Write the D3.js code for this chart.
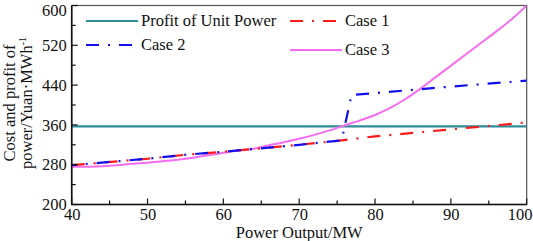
<!DOCTYPE html>
<html>
<head>
<meta charset="utf-8">
<script src="https://d3js.org/d3.v7.min.js"></script>
<style>
  body { margin: 0; background: #fff; }
  svg text { font-family: "Liberation Serif", "Times New Roman", Times, serif !important; fill: #111; }
</style>
</head>
<body>
<div id="container"></div>
<script>
// data
var profitLevel = 357;
var xTicks = [40, 50, 60, 70, 80, 90, 100];
var yTicks = [200, 280, 360, 440, 520, 600];

var case1X = [40, 50, 55, 60, 65, 70, 75, 80, 85, 90, 95, 100];
var case1Y = [279, 292, 300, 306, 313, 320, 328, 337, 344, 351, 358, 365];

var case2X = [40, 50, 55, 60, 65, 70, 75.6, 76.9, 80, 90, 100];
var case2Y = [279, 292, 300, 306, 313, 320, 329, 420, 424, 437, 449];

var case3X = [40, 42, 44, 46, 48, 50, 52, 54, 56, 58, 60, 62, 64, 66, 68, 70, 72, 74, 76, 78, 80, 82, 84, 86, 88, 90, 92, 94, 96, 98, 100];
var case3Y = [276, 276, 277, 279, 282, 284, 287, 290, 294, 299, 304, 309, 312, 319, 325, 332, 340, 349, 359, 369, 380, 394, 412, 433, 456, 479, 502, 525, 548, 572, 600];

var svg_width = 533, svg_height = 241;
var margin = {left: 71.7, top: 5.5, right: 6.3, bottom: 36.5};
var serif = "'Liberation Serif', 'Times New Roman', Times, serif";

var svg = d3.select("#container").append("svg")
    .attr("width", svg_width).attr("height", svg_height)
    .attr("font-family", serif);

var scale_x = d3.scaleLinear().domain([40, 100]).range([margin.left, svg_width - margin.right]);
var scale_y = d3.scaleLinear().domain([200, 600]).range([svg_height - margin.bottom, margin.top]);

// frame (top/right)
svg.append("rect")
    .attr("x", scale_x(40)).attr("y", scale_y(600))
    .attr("width", scale_x(100) - scale_x(40))
    .attr("height", scale_y(200) - scale_y(600))
    .attr("fill", "none").attr("stroke", "#555").attr("stroke-width", 1.2);

svg.append("clipPath").attr("id", "clip").append("rect")
    .attr("x", scale_x(40)).attr("y", scale_y(600))
    .attr("width", scale_x(100) - scale_x(40))
    .attr("height", scale_y(200) - scale_y(600));

var plot = svg.append("g").attr("clip-path", "url(#clip)");

function pts(xs, ys) { return xs.map(function (x, i) { return [x, ys[i]]; }); }
var line = d3.line().x(function (d) { return scale_x(d[0]); }).y(function (d) { return scale_y(d[1]); });
var smooth = d3.line().curve(d3.curveMonotoneX).x(function (d) { return scale_x(d[0]); }).y(function (d) { return scale_y(d[1]); });

var dashDot = "13,9,2,9";

// profit line
plot.append("path").attr("d", line([[40, profitLevel], [100, profitLevel]]))
    .attr("stroke", "#2e8b98").attr("stroke-width", 2.2).attr("fill", "none");

// case 3
plot.append("path").attr("d", smooth(pts(case3X, case3Y)))
    .attr("stroke", "#f56cf0").attr("stroke-width", 2).attr("fill", "none");

// case 1
plot.append("path").attr("d", line(pts(case1X, case1Y)))
    .attr("stroke", "#ff1a1a").attr("stroke-width", 2.2).attr("fill", "none")
    .attr("stroke-dasharray", dashDot);

// case 2
plot.append("path").attr("d", line(pts(case2X, case2Y)))
    .attr("stroke", "#1010ee").attr("stroke-width", 2.2).attr("fill", "none")
    .attr("stroke-dasharray", dashDot).attr("stroke-dashoffset", 8);

// axes (labels only, ticks drawn inward below)
var axis_x = d3.axisBottom(scale_x).tickValues(xTicks).tickSize(0).tickPadding(3.5);
var gx = svg.append("g").attr("transform", "translate(0," + scale_y(200) + ")").call(axis_x)
    .attr("font-family", serif).attr("font-size", 16.5);
gx.select(".domain").remove();
gx.selectAll("text").filter(function (d) { return d === 100; }).attr("dx", -7);

var axis_y = d3.axisLeft(scale_y).tickValues(yTicks).tickSize(0).tickPadding(5);
var gy = svg.append("g").attr("transform", "translate(" + scale_x(40) + ",0)").call(axis_y)
    .attr("font-family", serif).attr("font-size", 16.5);
gy.select(".domain").remove();
gy.selectAll("text").filter(function (d) { return d === 600; }).attr("dy", "0.6em");

var xMinor = d3.range(40, 100.1, 5), yMinor = d3.range(200, 600.1, 40);
svg.selectAll(".xt").data(xMinor).enter().append("line")
    .attr("x1", scale_x).attr("x2", scale_x)
    .attr("y1", scale_y(200)).attr("y2", function (d) { return scale_y(200) - (d % 10 === 0 ? 6 : 4); })
    .attr("stroke", "#111").attr("stroke-width", 1.2);
svg.selectAll(".yt").data(yMinor).enter().append("line")
    .attr("y1", scale_y).attr("y2", scale_y)
    .attr("x1", scale_x(40)).attr("x2", function (d) { return scale_x(40) + ((d - 200) % 80 === 0 ? 6 : 4); })
    .attr("stroke", "#111").attr("stroke-width", 1.2);

// left & bottom axis lines
svg.append("path")
    .attr("d", "M" + scale_x(40) + "," + scale_y(600) + "V" + scale_y(200) + "H" + scale_x(100))
    .attr("fill", "none").attr("stroke", "#111").attr("stroke-width", 1.6);

// axis titles
svg.append("text").attr("x", (scale_x(40) + scale_x(100)) / 2).attr("y", 238)
    .attr("text-anchor", "middle").attr("font-size", 16.5).text("Power Output/MW");

var yt = svg.append("g").attr("transform", "translate(0,103) rotate(-90)");
yt.append("text").attr("x", 0).attr("y", 15).attr("text-anchor", "middle")
    .attr("font-size", 16.5).text("Cost and profit of");
var t2 = yt.append("text").attr("x", 0).attr("y", 32).attr("text-anchor", "middle")
    .attr("font-size", 16.5);
t2.append("tspan").text("power/Yuan\u00B7MWh");
t2.append("tspan").attr("dy", -6).attr("font-size", 10).text("-1");

// legend
var legend = [
  {name: "Profit of Unit Power", color: "#2e8b98", dash: null, x: 86, y: 21},
  {name: "Case 1", color: "#ff1a1a", dash: dashDot, x: 290, y: 21},
  {name: "Case 2", color: "#1010ee", dash: dashDot, x: 86, y: 45},
  {name: "Case 3", color: "#f56cf0", dash: null, x: 290, y: 50}
];
var lg = svg.selectAll(".lg").data(legend).enter().append("g");
lg.append("line")
    .attr("x1", function (d) { return d.x; }).attr("x2", function (d) { return d.x + 52; })
    .attr("y1", function (d) { return d.y; }).attr("y2", function (d) { return d.y; })
    .attr("stroke", function (d) { return d.color; }).attr("stroke-width", 2.2)
    .attr("stroke-dasharray", function (d) { return d.dash; });
lg.append("text")
    .attr("x", function (d) { return d.x + 55; }).attr("y", function (d) { return d.y + 5; })
    .attr("font-size", 16.5).text(function (d) { return d.name; });
</script>
</body>
</html>
